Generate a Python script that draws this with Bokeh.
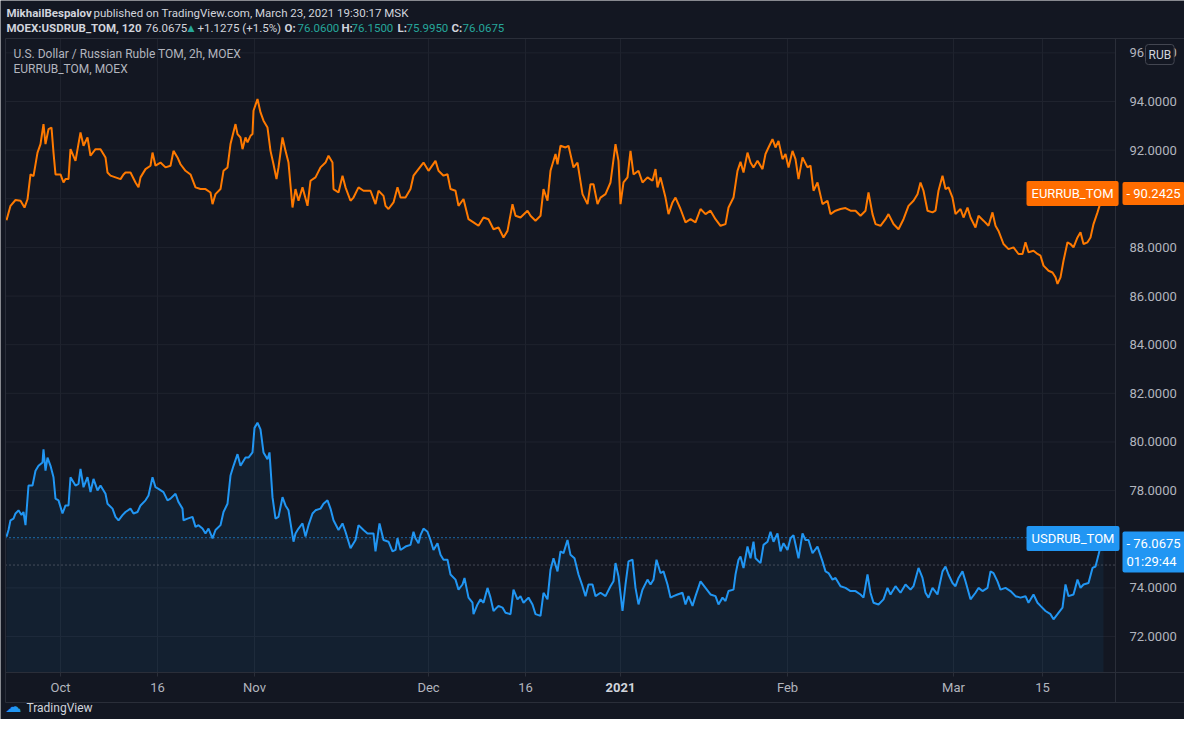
from bokeh.plotting import figure
from bokeh.models import Range1d, Label
from bokeh.embed import file_html
from bokeh.resources import INLINE
from bokeh.core.properties import value

# ---------------- data (bar number = 2h bars, values in RUB) ----------------
eur_bar = [6, 10, 15, 20, 24, 27, 30, 33, 37, 40, 43, 45, 48, 51, 53, 55, 60, 63, 65, 68,
           70, 75, 80, 83, 87, 90, 95, 100, 105, 107, 110, 115, 120, 123, 125, 130, 135, 138, 140, 145,
           150, 152, 155, 160, 165, 170, 173, 177, 180, 185, 190, 195, 200, 205, 210, 212, 215, 220, 223, 227,
           230, 235, 237, 240, 242, 245, 247, 250, 252, 253, 257, 260, 263, 267, 270, 273, 276, 278, 282, 285,
           288, 292, 295, 298, 302, 307, 310, 315, 320, 325, 328, 332, 333, 338, 342, 345, 350, 353, 358, 363,
           368, 370, 375, 378, 383, 385, 388, 393, 397, 400, 405, 410, 413, 418, 423, 428, 435, 438, 443, 447,
           450, 455, 458, 463, 468, 473, 478, 483, 488, 493, 498, 503, 507, 512, 515, 520, 527, 530, 535, 540,
           543, 547, 550, 555, 557, 560, 565, 568, 573, 577, 582, 587, 590, 593, 597, 600, 605, 610, 615, 618,
           620, 623, 627, 630, 633, 638, 642, 647, 652, 655, 657, 660, 665, 668, 672, 675, 680, 685, 690, 695,
           700, 705, 710, 715, 720, 725, 728, 733, 737, 740, 743, 747, 750, 753, 757, 762, 765, 768, 772, 775,
           778, 782, 785, 788, 792, 795, 798, 802, 807, 810, 813, 817, 822, 827, 830, 835, 840, 845, 850, 855,
           860, 865, 868, 872, 875, 880, 885, 888, 893, 898, 903, 908, 913, 917, 920, 923, 927, 932, 935, 938,
           942, 945, 948, 952, 955, 960, 963, 967, 970, 975, 978, 983, 988, 992, 995, 998, 1003, 1008, 1013, 1018,
           1022, 1025, 1028, 1033, 1037, 1040, 1043, 1048, 1052, 1055, 1057, 1060, 1063, 1067, 1070, 1073, 1077, 1080, 1083, 1087,
           1090, 1093, 1097, 1100, 1103]
eur_val = [89.12, 89.71, 89.95, 89.92, 89.64, 89.98, 91.00, 90.93, 91.90, 92.25, 93.07, 92.25, 92.86, 92.93, 91.90, 91.00, 91.00, 90.67, 90.81, 90.81,
           92.04, 91.56, 92.73, 92.18, 92.52, 91.77, 92.04, 92.04, 91.70, 91.08, 90.95, 90.88, 90.81, 91.00, 91.08, 91.08, 90.67, 90.47, 90.88, 91.22,
           91.36, 91.90, 91.36, 91.49, 91.29, 91.36, 91.97, 91.70, 91.42, 91.15, 91.00, 90.47, 90.40, 90.40, 90.26, 89.78, 90.19, 90.40, 91.15, 91.29,
           92.25, 93.07, 92.66, 92.52, 92.04, 92.52, 92.32, 92.59, 92.66, 93.62, 94.10, 93.55, 93.21, 92.93, 91.97, 91.42, 90.81, 91.29, 92.52, 91.97,
           91.49, 89.64, 90.40, 89.92, 90.47, 89.71, 90.74, 90.88, 91.29, 91.49, 91.77, 91.49, 90.40, 90.26, 90.95, 90.47, 89.92, 90.05, 90.47, 90.33,
           90.33, 90.33, 89.78, 90.33, 90.12, 89.71, 89.58, 89.85, 90.47, 90.05, 90.05, 90.40, 90.95, 91.22, 91.49, 91.15, 91.56, 91.15, 90.95, 91.01,
           90.40, 90.33, 89.71, 89.99, 89.16, 89.03, 88.89, 89.23, 89.16, 88.75, 88.82, 88.41, 88.68, 89.78, 89.30, 89.23, 89.51, 89.30, 89.10, 89.30,
           90.40, 89.92, 91.15, 91.84, 91.42, 92.18, 92.11, 92.18, 91.29, 91.49, 90.19, 89.78, 90.60, 90.60, 89.78, 90.05, 90.19, 90.67, 92.25, 91.56,
           89.78, 90.67, 90.88, 91.97, 91.00, 91.15, 90.67, 90.88, 90.74, 91.22, 90.47, 90.88, 90.05, 89.37, 89.85, 90.05, 89.58, 89.03, 89.16, 89.03,
           89.58, 89.37, 89.51, 89.16, 88.89, 88.96, 89.64, 90.05, 91.15, 91.52, 91.08, 91.90, 91.49, 91.29, 91.56, 91.22, 91.84, 92.11, 92.45, 92.11,
           92.38, 91.63, 91.84, 91.29, 91.97, 91.63, 90.81, 91.70, 91.29, 91.36, 90.33, 90.67, 89.78, 89.92, 89.37, 89.51, 89.58, 89.62, 89.51, 89.51,
           89.30, 89.51, 90.26, 89.37, 88.96, 88.89, 89.16, 89.37, 88.96, 88.75, 89.16, 89.71, 89.92, 90.19, 90.67, 90.33, 89.51, 89.44, 89.51, 90.33,
           90.95, 90.40, 90.47, 90.05, 89.37, 89.58, 89.23, 89.64, 89.23, 88.82, 89.30, 89.10, 88.89, 89.44, 88.89, 88.68, 88.14, 87.93, 88.00, 87.73,
           87.73, 88.21, 87.80, 87.86, 87.73, 87.66, 87.25, 87.04, 86.97, 86.77, 86.50, 86.77, 87.45, 88.21, 88.14, 88.00, 88.41, 88.62, 88.14, 88.21,
           88.41, 88.96, 89.44, 89.85, 90.2425]

usd_bar = [6, 8, 10, 13, 15, 18, 21, 23, 25, 28, 32, 35, 38, 42, 43, 45, 47, 50, 53, 55,
           58, 62, 65, 68, 70, 75, 78, 80, 83, 87, 90, 93, 97, 100, 105, 107, 112, 115, 118, 122,
           125, 130, 133, 137, 140, 145, 148, 152, 155, 158, 163, 167, 170, 175, 178, 182, 183, 187, 192, 195,
           198, 202, 205, 208, 212, 215, 220, 223, 227, 230, 233, 237, 240, 242, 245, 248, 252, 254, 257, 260,
           263, 267, 269, 272, 275, 278, 282, 285, 288, 293, 295, 298, 302, 305, 308, 312, 315, 320, 323, 327,
           330, 333, 338, 342, 345, 350, 355, 358, 363, 367, 370, 373, 375, 379, 383, 388, 392, 395, 397, 400,
           405, 410, 413, 415, 418, 420, 423, 427, 430, 433, 437, 440, 443, 447, 450, 455, 458, 462, 464, 468,
           472, 473, 477, 480, 483, 487, 490, 493, 498, 502, 505, 510, 513, 517, 520, 523, 528, 532, 535, 540,
           543, 547, 550, 553, 557, 560, 563, 567, 570, 574, 578, 582, 585, 588, 592, 595, 600, 605, 610, 613,
           615, 618, 622, 625, 628, 632, 635, 638, 642, 647, 650, 653, 656, 660, 663, 667, 670, 673, 677, 682,
           685, 688, 692, 695, 700, 705, 710, 715, 718, 722, 725, 728, 733, 735, 738, 740, 743, 747, 750, 753,
           755, 760, 763, 767, 770, 773, 777, 780, 783, 787, 790, 793, 798, 802, 805, 808, 812, 817, 822, 825,
           828, 832, 835, 840, 845, 850, 855, 860, 863, 867, 870, 873, 878, 883, 887, 890, 895, 900, 905, 910,
           913, 918, 922, 925, 928, 932, 937, 942, 945, 948, 952, 955, 958, 962, 965, 970, 975, 978, 982, 987,
           990, 993, 997, 1000, 1005, 1010, 1015, 1020, 1025, 1028, 1033, 1037, 1040, 1045, 1050, 1053, 1057, 1062, 1065, 1068,
           1073, 1077, 1080, 1083, 1088, 1092, 1095, 1098, 1100, 1103]
usd_val = [76.10, 76.38, 76.78, 76.85, 77.06, 77.19, 77.00, 77.12, 76.58, 78.21, 78.21, 78.82, 79.02, 79.16, 79.70, 78.82, 79.36, 79.02, 78.55, 77.67,
           77.60, 77.06, 77.39, 77.39, 78.55, 78.21, 78.28, 78.89, 78.14, 78.55, 77.94, 78.48, 78.01, 78.21, 77.87, 77.46, 77.26, 76.92, 76.78, 76.99,
           77.12, 77.26, 77.06, 77.12, 77.39, 77.60, 77.80, 78.55, 78.14, 78.07, 77.94, 77.60, 77.67, 77.87, 77.53, 77.26, 76.78, 76.85, 76.92, 76.51,
           76.58, 76.44, 76.24, 76.44, 76.04, 76.38, 76.58, 77.12, 77.46, 78.62, 79.02, 79.50, 79.02, 79.16, 79.36, 79.36, 79.57, 80.58, 80.79, 80.52,
           79.57, 79.29, 79.57, 77.73, 76.85, 76.92, 77.73, 77.39, 77.19, 75.90, 76.24, 76.44, 76.65, 76.11, 76.58, 77.06, 77.19, 77.26, 77.46, 77.60,
           77.26, 76.78, 76.38, 76.65, 76.31, 75.63, 75.97, 76.58, 76.38, 76.24, 76.24, 76.24, 75.50, 76.65, 75.97, 75.90, 75.50, 75.56, 76.04, 75.56,
           75.70, 75.77, 76.31, 76.04, 75.84, 76.17, 76.44, 76.31, 75.97, 75.56, 75.84, 75.36, 75.16, 75.16, 74.55, 74.34, 73.93, 74.14, 74.41, 73.60,
           73.39, 72.92, 73.32, 73.53, 73.39, 74.00, 73.60, 73.05, 73.26, 73.19, 72.98, 72.92, 73.93, 73.53, 73.66, 73.39, 73.60, 73.32, 72.92, 72.85,
           73.80, 73.53, 74.75, 75.22, 74.68, 75.50, 75.43, 75.97, 75.36, 75.22, 74.55, 74.07, 73.66, 74.14, 74.14, 73.66, 73.80, 73.66, 74.07, 74.27,
           75.02, 74.48, 73.05, 74.14, 75.09, 75.16, 74.00, 73.32, 73.93, 74.34, 74.14, 74.34, 75.16, 74.61, 74.68, 74.14, 73.60, 73.66, 73.73, 73.80,
           73.32, 73.66, 73.26, 73.66, 74.27, 74.00, 73.73, 73.66, 73.32, 73.60, 73.46, 73.87, 73.93, 74.55, 75.16, 75.29, 74.82, 75.70, 75.22, 75.90,
           75.22, 75.02, 75.77, 75.90, 76.31, 75.90, 76.24, 75.50, 75.84, 75.56, 76.04, 76.17, 75.22, 76.24, 75.97, 75.97, 75.43, 75.70, 75.09, 74.68,
           74.61, 74.34, 74.41, 74.07, 74.00, 73.87, 73.87, 73.73, 73.60, 74.55, 73.80, 73.39, 73.32, 73.53, 74.00, 73.73, 74.07, 73.80, 74.14, 73.93,
           74.07, 74.82, 74.41, 73.80, 73.60, 74.00, 73.73, 74.68, 74.88, 74.55, 74.20, 74.07, 74.41, 74.68, 74.27, 73.53, 73.80, 74.00, 73.87, 74.00,
           74.68, 74.61, 74.27, 73.93, 74.00, 73.87, 73.66, 73.60, 73.66, 73.39, 73.73, 73.39, 73.26, 73.05, 72.92, 72.71, 72.92, 73.19, 74.14, 73.66,
           73.73, 74.34, 74.00, 74.14, 74.20, 74.82, 74.88, 75.36, 75.70, 76.0675]

usd_last = 76.0675
usd_prev_close = 74.94
eur_last = 90.2425
usd_countdown = "01:29:44"

price_ticks = [72, 74, 76, 78, 80, 82, 84, 86, 88, 90, 92, 94, 96]
price_labels = ["72.0000", "74.0000", "76.0000", "78.0000", "80.0000", "82.0000", "84.0000",
                "86.0000", "88.0000", "90.0000", "92.0000", "94.0000", "96.0000"]
time_ticks = [60, 157, 254, 428, 525, 620, 787, 953, 1042]
time_labels = ["Oct", "16", "Nov", "Dec", "16", "2021", "Feb", "Mar", "15"]
time_bold = [False, False, False, False, False, True, False, False, False]

header_name = "MikhailBespalov"
header_rest = "published on TradingView.com, March 23, 2021 19:30:17 MSK"
legend_1 = "U.S. Dollar / Russian Ruble TOM, 2h, MOEX"
legend_2 = "EURRUB_TOM, MOEX"

# ---------------- styling ----------------
BG = "#131722"
BORDER = "#2a2e39"
GRID = "#1f232e"
TXT = "#d1d4dc"
AXT = "#b2b5be"
TEAL = "#26a69a"
ORANGE = "#ff6d00"
ORANGE_LINE = "#ff7a00"
BLUE = "#2196f3"
FONT = "Roboto"
HDR = "11.5px"

W, H = 1184, 719
PANE_L, PANE_R, PANE_T, PANE_B = 5, 1195, 38, 702     # outer pane (pixels)
PLOT_R, PLOT_B = 1115, 672                            # price-scale / time-scale dividers


def Y(py):
    # pixel row -> price (24.32 px per rouble, 94 at row 101)
    return 94 - (py - 101) / 24.32


p = figure(width=W, height=H, output_backend="svg", toolbar_location=None,
           x_range=Range1d(0, W), y_range=Range1d(Y(H), Y(0)),
           x_axis_location=None, y_axis_location=None,
           min_border=0, min_border_left=0, min_border_right=0, min_border_top=0, min_border_bottom=0,
           background_fill_color=BG, border_fill_color=BG, outline_line_color=None)
p.grid.visible = False

# ---- grid (from the tick lists) ----
p.segment(x0=time_ticks, x1=time_ticks, y0=Y(PANE_T), y1=Y(PLOT_B), line_color=GRID, line_width=1)
p.segment(x0=PANE_L, x1=PLOT_R, y0=price_ticks, y1=price_ticks, line_color=GRID, line_width=1)

# ---- series ----
p.varea(x=usd_bar, y1=usd_val, y2=Y(PLOT_B), fill_color=BLUE, fill_alpha=0.07)
p.segment(x0=[PANE_L], x1=[PLOT_R], y0=[usd_prev_close], y1=[usd_prev_close],
          line_color="#787b86", line_dash="1 3", line_width=1)
p.segment(x0=[PANE_L], x1=[PLOT_R], y0=[usd_last], y1=[usd_last],
          line_color=BLUE, line_dash="1 3", line_width=1.2)
p.line(eur_bar, eur_val, line_color=ORANGE_LINE, line_width=2)
p.line(usd_bar, usd_val, line_color=BLUE, line_width=2)

# ---- pane frame and scale dividers ----
p.segment(x0=[PANE_L, PANE_L, PANE_L, PLOT_R, PANE_L, PANE_R],
          x1=[PANE_R, PANE_R, PANE_L, PLOT_R, PANE_R, PANE_R],
          y0=[Y(PANE_T), Y(PANE_B), Y(PANE_T), Y(PANE_T), Y(PLOT_B), Y(PANE_T)],
          y1=[Y(PANE_T), Y(PANE_B), Y(PANE_B), Y(PANE_B), Y(PLOT_B), Y(PANE_B)],
          line_color=BORDER, line_width=1)

# ---- time scale ----
p.segment(x0=time_ticks, x1=time_ticks, y0=Y(PLOT_B), y1=Y(PLOT_B + 4), line_color=BORDER, line_width=1)
reg_t = [t for t, b in zip(time_ticks, time_bold) if not b]
reg_l = [l for l, b in zip(time_labels, time_bold) if not b]
bold_t = [t for t, b in zip(time_ticks, time_bold) if b]
bold_l = [l for l, b in zip(time_labels, time_bold) if b]
p.text(x=reg_t, y=Y(687), text=reg_l, text_font=value(FONT), text_font_size="13px",
       text_color=AXT, text_align="center", text_baseline="middle")
p.text(x=bold_t, y=Y(687), text=bold_l, text_font=value(FONT), text_font_size="13px",
       text_color=TXT, text_font_style="bold", text_align="center", text_baseline="middle")

# ---- price scale ----
p.text(x=1129, y=price_ticks, text=price_labels, text_font=value(FONT), text_font_size="13px",
       text_color=AXT, text_align="left", text_baseline="middle")

LP = Label.properties()


def lab(x, y, text, size="12px", color=TXT, style="normal", align="left", baseline="middle",
        font=FONT, bg=None, border=None, pad=None, radius=None):
    kw = dict(x=x, y=y, text=text, x_units="data", y_units="data", text_font=font,
              text_font_size=size, text_color=color, text_font_style=style,
              text_align=align, text_baseline=baseline)
    if bg is not None:
        kw["background_fill_color"] = bg
        kw["background_fill_alpha"] = 1.0
    if border is not None:
        kw["border_line_color"] = border
        kw["border_line_width"] = 1
    if pad is not None and "padding" in LP:
        kw["padding"] = pad
    if radius is not None and "border_radius" in LP:
        kw["border_radius"] = radius
    p.add_layout(Label(**kw))


# ---- header ----
lab(6, Y(12), header_name, size=HDR, style="bold")
lab(93, Y(12), header_rest, size=HDR)
lab(6, Y(27), "MOEX:USDRUB_TOM, 120", size=HDR, style="bold")
lab(145, Y(27), "76.0675", size=HDR)
lab(187, Y(27), "\u25B2", size="9px", color=TEAL, font="DejaVu Sans")
lab(197, Y(27), "+1.1275 (+1.5%)", size=HDR)
for xo, key, xv, val in [(284, "O:", 297, "76.0600"), (341, "H:", 351, "76.1500"),
                         (397, "L:", 406, "75.9950"), (451, "C:", 462, "76.0675")]:
    lab(xo, Y(27), key, size=HDR, style="bold")
    lab(xv, Y(27), val, size=HDR, color=TEAL)

# ---- legend ----
lab(13, Y(53), legend_1, size="12px", color=AXT)
lab(13, Y(68), legend_2, size="12px", color=AXT)

# ---- price scale badge ----
lab(1145, Y(54), "RUB", size="12px", color=TXT, bg=BG, border="#434651", pad=3, radius=3)

# ---- last value tags ----
lab(1026, Y(193), "EURRUB_TOM", size="13px", color="#ffffff", bg=ORANGE, pad=5, radius=2)
lab(1122, Y(193), "- %.4f" % eur_last, size="13px", color="#ffffff", bg=ORANGE, pad=4, radius=2)
lab(1026, Y(538), "USDRUB_TOM", size="13px", color="#ffffff", bg=BLUE, pad=5, radius=2)
lab(1122, Y(531), "- %.4f\n   %s" % (usd_last, usd_countdown), size="13px", color="#ffffff",
    bg=BLUE, pad=4, radius=2, baseline="top")

# ---- TradingView logo ----
lab(5, Y(706), "\u2601", size="16px", color=BLUE, font="DejaVu Sans")
lab(26, Y(707), "TradingView", size="12px", color=TXT)

html = file_html(p, INLINE)
html = html.replace("<body>", '<body style="background-color:#131722;">', 1)
open("out.html", "w").write(html)
